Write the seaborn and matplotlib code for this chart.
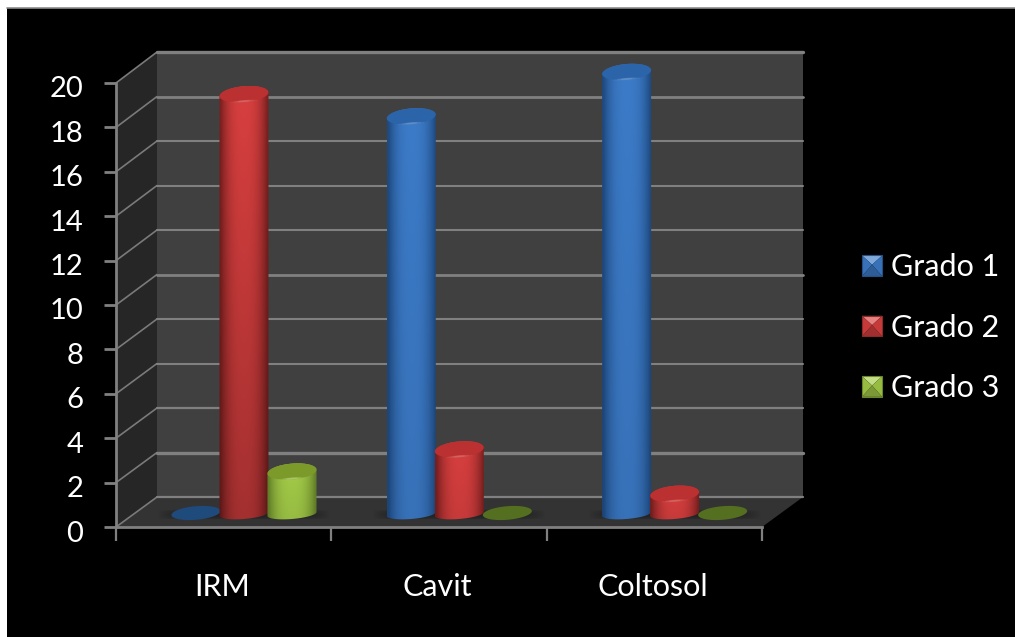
import numpy as np
import pandas as pd
import matplotlib
matplotlib.use("Agg")
import matplotlib.pyplot as plt
from matplotlib.colors import to_rgb
from matplotlib.legend_handler import HandlerBase
from matplotlib.patches import Patch, Polygon, Rectangle
from matplotlib.transforms import ScaledTranslation
import seaborn as sns

# Chart data
materials = ["IRM", "Cavit", "Coltosol"]
grades = ["Grado 1", "Grado 2", "Grado 3"]
grado_1 = [0, 18, 20]
grado_2 = [19, 3, 1]
grado_3 = [2, 0, 0]
y_ticks = list(range(0, 21, 2))

# Styling
W, H = 1015, 637
side_colors = {"Grado 1": "#1f4b82", "Grado 2": "#7c2020", "Grado 3": "#66842a"}
mid_colors = {"Grado 1": "#3c7bc8", "Grado 2": "#d83f3f", "Grado 3": "#a4cc48"}
top_colors = {"Grado 1": "#2c64aa", "Grado 2": "#bb3030", "Grado 3": "#7b9a2a"}
flat_colors = {"Grado 1": "#1f4a7c", "Grado 2": "#7c2020", "Grado 3": "#556f20"}
grid_widths = [1.6, 2.4, 1.6, 1.5, 1.5, 2.0, 1.5, 1.5, 1.5, 2.0, 2.4]

sns.set_theme(style="dark")
plt.rcParams["font.family"] = ["Lato", "DejaVu Sans"]
FS_TICK = 21
FS_TEXT = 22

df = pd.DataFrame({
    "material": np.tile(materials, 3),
    "grado": np.repeat(grades, 3),
    "casos": grado_1 + grado_2 + grado_3,
})

fig = plt.figure(figsize=(W / 100, H / 100), dpi=100, facecolor="white")


def place(x0, top, x1, bottom, z):
    """Add an axes given its pixel box, measured from the top left."""
    ax = fig.add_axes([x0 / W, 1 - bottom / H, (x1 - x0) / W, (bottom - top) / H])
    ax.set_zorder(z)
    return ax


def to_px(ax, x, y):
    dx, dy = ax.transData.transform((x, y))
    return dx, H - dy


# Pixel canvas for the panel, side wall and floor
bg = place(0, 0, W, H, 0)
bg.set_xlim(0, W)
bg.set_ylim(H, 0)
bg.set_axis_off()
bg.add_patch(Rectangle((7, 8), W - 7, H - 8, fc="black", ec="none"))
bg.plot([7, W], [8, 8], color="#8c8c8c", lw=1.2)
bg.add_patch(Polygon([(116, 83), (157, 52), (157, 497), (116, 527)], fc="#262626", ec="none"))
bg.add_patch(Polygon([(116, 527), (157, 497), (803, 497), (762, 527)], fc="#333333", ec="none"))

# Back wall with its gridlines
back = place(157, 52, 803, 497, 1)
back.set_facecolor("#404040")
back.set_xlim(-0.5, 2.5)
back.set_ylim(0, 20)
back.set_xticks([])
back.set_yticks(y_ticks)
back.tick_params(left=False, labelleft=False)
back.grid(False)
for spine in back.spines.values():
    spine.set_visible(False)
for v, lw in zip(y_ticks, grid_widths):
    back.axhline(v, color="#808080", lw=lw, clip_on=False)

# Front axes carrying ticks and tick labels
front = place(116, 83, 762, 527, 2)
front.patch.set_alpha(0)
front.set_xlim(-0.5, 2.5)
front.set_ylim(0, 20)
front.grid(False)
front.set_yticks(y_ticks)
front.set_yticklabels([str(v) for v in y_ticks], color="white", fontsize=FS_TICK)
front.set_xticks([-0.5, 0.5, 1.5, 2.5])
front.set_xticklabels([])
front.set_xticks(range(3), minor=True)
front.set_xticklabels(materials, minor=True, color="white", fontsize=FS_TEXT)
front.tick_params(axis="y", which="major", left=True, length=8.5, width=2, color="#808080", pad=15)
front.tick_params(axis="x", which="major", bottom=True, length=10, width=1.6, color="#808080")
front.tick_params(axis="x", which="minor", bottom=False, length=0, pad=33)
for name, spine in front.spines.items():
    spine.set_visible(name in ("left", "bottom"))
    spine.set_color("#808080")
    spine.set_linewidth(2.0)

# Nudge the labels so the digits sit level with their ticks
nudge = ScaledTranslation(0, -4 / 100, fig.dpi_scale_trans)
for label in front.get_yticklabels():
    label.set_transform(label.get_transform() + nudge)
shift = ScaledTranslation(-1.5 / 100, 0, fig.dpi_scale_trans)
for label in front.get_xticklabels(minor=True):
    label.set_transform(label.get_transform() + shift)

# Slanted lines joining the front ticks to the wall gridlines
for v in y_ticks:
    x0, y0 = to_px(front, -0.5, v)
    x1, y1 = to_px(back, -0.5, v)
    bg.plot([x0, x1], [y0, y1], color="#7a7a7a", lw=1.2, zorder=3)

# Bars are laid out by seaborn, midway through the depth of the chart
bars = place(136.3, 72, 782.3, 516, 3)
sns.barplot(data=df, x="material", y="casos", hue="grado", order=materials, hue_order=grades,
            palette=mid_colors, saturation=1, width=0.669, gap=0, legend=False, ax=bars)
bars.set_xlim(-0.5, 2.5)
bars.set_ylim(0, 20)
bars.set_axis_off()

# Pixel canvas for the cylinder shading
top = place(0, 0, W, H, 4)
top.set_xlim(0, W)
top.set_ylim(H, 0)
top.set_axis_off()

SLOPE = 0.08
t = np.linspace(0, np.pi, 40)


def rim(cx, cy, a, b, angles):
    xs = cx + a * np.cos(angles)
    ys = cy - SLOPE * a * np.cos(angles) + b * np.sin(angles)
    return np.column_stack([xs, ys])


def disc(cx, cy, a, b):
    return np.vstack([rim(cx, cy, a, b, t), rim(cx, cy, a, b, -t[::-1])])


def lerp(c0, c1, f):
    return np.array(to_rgb(c0)) * (1 - f) + np.array(to_rgb(c1)) * f


# Soft shadow on the floor under each group
for i in range(3):
    cx, _ = to_px(bars, i, 0)
    alpha = np.zeros((12, 60, 4))
    fade_x = np.clip(1.0 - np.abs(np.linspace(-1, 1, 60)) ** 6, 0, 1)
    fade_y = np.sin(np.linspace(0, np.pi, 12)) ** 0.6
    alpha[..., 3] = 0.32 * np.outer(fade_y, fade_x)
    top.imshow(alpha, extent=(cx - 88, cx + 88, 520, 509), aspect="auto", zorder=1)

TOP_B = 8.0
z = 2
for container, grade in zip(bars.containers, grades):
    for patch, value in zip(container.patches, df[df.grado == grade].casos):
        x0 = patch.get_x()
        x1 = x0 + patch.get_width()
        cx = (to_px(bars, x0, 0)[0] + to_px(bars, x1, 0)[0]) / 2
        a = (to_px(bars, x1, 0)[0] - to_px(bars, x0, 0)[0]) / 2 + 0.5
        _, ytop = to_px(bars, x0, value)
        patch.set_visible(False)
        if value == 0:
            top.add_patch(Polygon(disc(cx, ytop - 3, a, 6.8), fc=flat_colors[grade], ec="none", zorder=z))
            z += 1
            continue
        ybase = 514
        body = Polygon(np.vstack([rim(cx, ybase, a, 5, t[::-1]), rim(cx, ytop, a, TOP_B, -t)]),
                       fc="none", ec="none", zorder=z)
        top.add_patch(body)
        # Round shading across the cylinder; the tall red one dims towards the floor
        u = np.abs(np.linspace(-1, 1, 64))
        shade = np.clip(1 - (u / 0.95) ** 2.6, 0, 1)
        rows = 48
        img = np.zeros((rows, 64, 3))
        floor_dim = 0.76 if grade == "Grado 2" and value > 5 else 0.92
        dim = np.linspace(1.0, floor_dim, rows)
        for c in range(64):
            img[:, c] = lerp(side_colors[grade], mid_colors[grade], shade[c])
        img = img * dim[:, None, None]
        im = top.imshow(img, extent=(cx - a, cx + a, ybase + 6, ytop - 9), aspect="auto",
                        zorder=z, interpolation="bilinear")
        im.set_clip_path(body)
        top.add_patch(Polygon(disc(cx, ytop, a, TOP_B), fc=top_colors[grade], ec="none", zorder=z + 0.1))
        # Soft glint along the front of the rim
        glow = lerp(mid_colors[grade], "white", 0.3)
        for scale, alpha_value in ((0.55, 0.18), (0.4, 0.3), (0.25, 0.45)):
            top.add_patch(Polygon(disc(cx, ytop + TOP_B - 1.0, a * scale, 1.5 * scale + 0.4),
                                  fc=glow, alpha=alpha_value, ec="none", zorder=z + 0.2))
        z += 1


class BevelHandler(HandlerBase):
    """Square legend key with a bevelled, pyramid-like face."""

    def create_artists(self, legend, orig, xd, yd, w, h, fontsize, trans):
        base = orig.get_facecolor()[:3]
        x0, y0, x1, y1 = xd * -1, yd * -1, -xd + w, -yd + h
        mx, my = (x0 + x1) / 2, y0 + 0.55 * (y1 - y0)
        faces = [
            ([(x0, y1), (x1, y1), (mx, my)], lerp(base, "white", 0.35)),
            ([(x0, y0), (x1, y0), (mx, my)], lerp(base, "black", 0.25)),
            ([(x0, y0), (x0, y1), (mx, my)], lerp(base, "black", 0.08)),
            ([(x1, y0), (x1, y1), (mx, my)], lerp(base, "black", 0.08)),
        ]
        artists = [Polygon(pts, fc=col, ec="none", transform=trans) for pts, col in faces]
        artists.append(Polygon([(x0, y0), (x1, y0), (x1, y1), (x0, y1)], fc="none",
                               ec=lerp(base, "black", 0.35), lw=0.8, transform=trans))
        return artists


legend_handles = [Patch(facecolor=mid_colors[g], label=g) for g in grades]
leg = top.legend(handles=legend_handles, loc="upper left", bbox_to_anchor=(862 / W, 1 - 253.5 / H),
                 bbox_transform=fig.transFigure, frameon=False, fontsize=FS_TEXT, labelcolor="white",
                 handlelength=0.66, handleheight=0.66, handletextpad=0.3, labelspacing=1.06,
                 borderpad=0, borderaxespad=0,
                 handler_map={Patch: BevelHandler()})

fig.savefig("out.png", dpi=100, facecolor="white")
